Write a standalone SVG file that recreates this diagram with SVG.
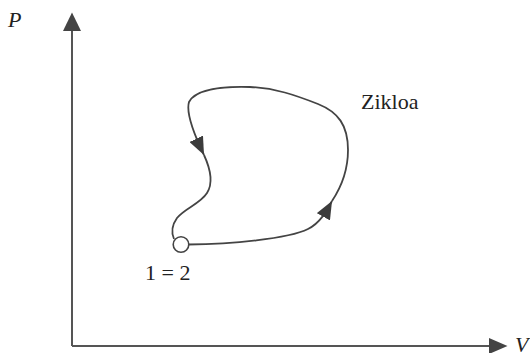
<svg xmlns="http://www.w3.org/2000/svg" width="530" height="353" viewBox="0 0 530 353">
  <style>
    .axis { stroke: #555; stroke-width: 2; fill: none; }
    .ahead { fill: #444; stroke: none; }
    .curve { stroke: #444; stroke-width: 1.8; fill: none; }
    .lbl { font-family: "Liberation Serif", "Times New Roman", serif; font-size: 22px; fill: #222; }
    .it { font-style: italic; }
  </style>
  <defs>
    <marker id="arr" viewBox="0 0 18 15" refX="18" refY="7.5" markerWidth="18" markerHeight="15" markerUnits="userSpaceOnUse" orient="auto">
      <path d="M0,0 L18,7.5 L0,15 z" fill="#3c3c3c"/>
    </marker>
  </defs>
  <rect width="530" height="353" fill="#fff"/>
  <g id="axes">
    <line class="axis" x1="72" y1="30" x2="72" y2="346"/>
    <line class="axis" x1="72" y1="346" x2="490" y2="346"/>
    <polygon class="ahead" points="63,31 72,12.5 81,31"/>
    <polygon class="ahead" points="489,338 507.5,346 489,354"/>
  </g>
  <g id="connectors">
    <path class="curve" marker-end="url(#arr)" d="M188.5,244.5 C230,244 288,239 308,229 C320,223 326,212 332,201"/>
    <path class="curve" marker-end="url(#arr)" d="M332,201 C338,192 348,175 348,150 C348,125 338,112 318,104 C295,95 275,88 250,87 C220,86 195,90 189,102 C186,112 192,130 204,155"/>
    <path class="curve" d="M204,155 C210,168 214,182 207,193 C200,204 185,208 177,218 C172,225 171,232 174,239"/>
  </g>
  <g id="state12">
    <circle cx="181" cy="244.5" r="7.8" fill="#fff" stroke="#444" stroke-width="1.6"/>
    <text class="lbl" x="145" y="280">1 = 2</text>
  </g>
  <g id="labels">
    <text class="lbl it" x="8" y="27">P</text>
    <text class="lbl it" x="515" y="352">V</text>
    <text class="lbl" x="361" y="108.5">Zikloa</text>
  </g>
</svg>
